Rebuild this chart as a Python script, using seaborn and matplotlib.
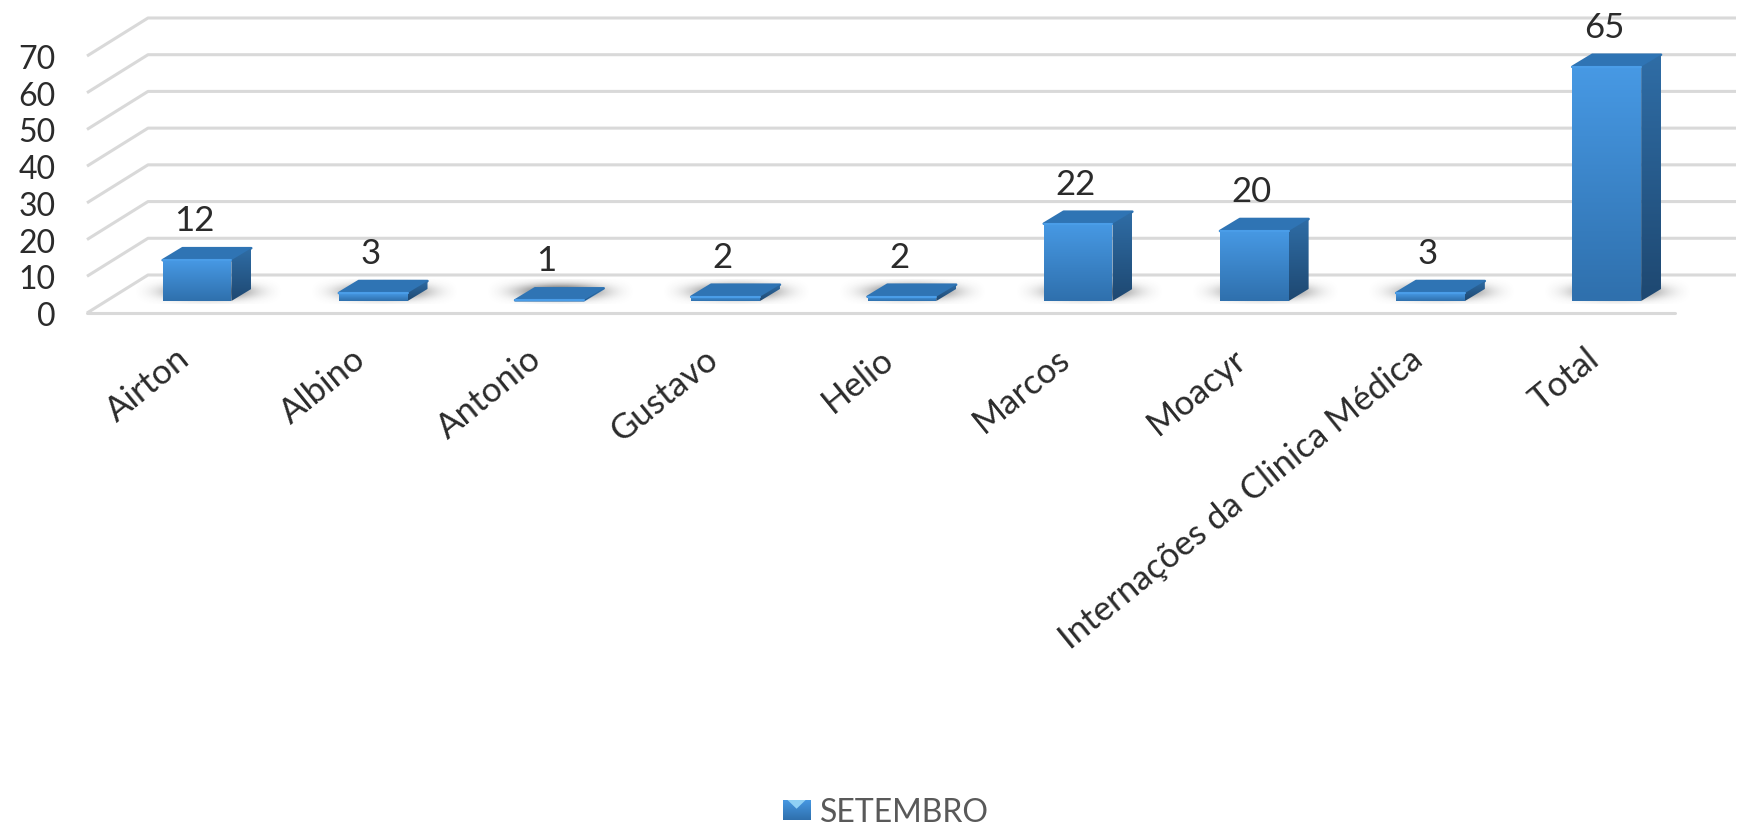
import numpy as np
import pandas as pd
import matplotlib
matplotlib.use("Agg")
import matplotlib.pyplot as plt
from matplotlib.colors import LinearSegmentedColormap
from matplotlib.patches import Polygon
from matplotlib.transforms import ScaledTranslation
import seaborn as sns

categories = ["Airton", "Albino", "Antonio", "Gustavo", "Helio", "Marcos", "Moacyr",
              "Internações da Clinica Médica", "Total"]
values = [12, 3, 1, 2, 2, 22, 20, 3, 65]
series_name = "SETEMBRO"
y_ticks = [0, 10, 20, 30, 40, 50, 60, 70]

W, H = 1742, 828
GRID = "#d9d9d9"
TEXT = "#2b2b2b"
DEPTH_X, DEPTH_Y = 0.113, 3.3   # bar depth, in category / value units
FLOOR = 0.82                    # boxes are cut off here, the 3d bars sink a bit in the floor


def vgrad(top, bottom):
    return LinearSegmentedColormap.from_list("g", [bottom, top])


FRONT = vgrad("#4799e4", "#2f70ad")
SIDE = vgrad("#2f6da6", "#1e4871")


def fill(ax, patch, cmap, extent, z):
    img = ax.imshow(np.linspace(1, 0, 64).reshape(-1, 1), cmap=cmap, extent=extent,
                    aspect="auto", zorder=z, interpolation="bilinear")
    img.set_clip_path(patch)


def draw_walls(ax):
    ax.set_xlim(0, 1); ax.set_ylim(0, 70)
    ax.set_yticks(y_ticks)
    ax.set_xticks([])
    ax.tick_params(axis="y", length=0, pad=22.5, labelsize=23, labelcolor=TEXT)
    sns.despine(ax=ax, left=True, bottom=True)
    dx, dy = 61 / 1588, 38 / 3.67
    tr = ax.get_yaxis_transform()
    for v in y_ticks:
        ax.plot([0, dx, 1 + dx], [v, v + dy, v + dy], transform=tr, color=GRID, lw=2.2,
                clip_on=False, solid_capstyle="butt")
    ax.plot([0, 1], [0, 0], transform=tr, color=GRID, lw=2.2, clip_on=False)


def draw_shadows(ax, bars):
    xx, yy = np.meshgrid(np.linspace(-1, 1, 120), np.linspace(-1, 1, 40))
    rgba = np.zeros((40, 120, 4))
    rgba[..., :3] = 0.25
    rgba[..., 3] = 0.85 * np.exp(-(xx / 0.58) ** 2 - (yy / 0.6) ** 2) * np.clip(1 - xx ** 4, 0, 1)
    for b in bars:
        c = b.get_x() + b.get_width() / 2 + 0.06
        ax.imshow(rgba, extent=(c - 0.42, c + 0.42, 0.0, 6.6), aspect="auto", zorder=1,
                  origin="lower", interpolation="bilinear")


def draw_box(ax, bar):
    x0, x1, h = bar.get_x(), bar.get_x() + bar.get_width(), bar.get_height()
    bar.set_visible(False)
    front = Polygon([(x0, FLOOR), (x1, FLOOR), (x1, h), (x0, h)], closed=True, fc="none", ec="none")
    side = Polygon([(x1, FLOOR), (x1 + DEPTH_X, FLOOR + DEPTH_Y), (x1 + DEPTH_X, h + DEPTH_Y), (x1, h)],
                   closed=True, fc="none", ec="none")
    top = Polygon([(x0, h), (x1, h), (x1 + DEPTH_X, h + DEPTH_Y), (x0 + DEPTH_X, h + DEPTH_Y)],
                  closed=True, fc="#2f74b4", ec="#2f74b4", lw=1.8, joinstyle="round", zorder=3)
    for p in (front, side):
        ax.add_patch(p)
    ax.add_patch(top)
    fill(ax, side, SIDE, (x1, x1 + DEPTH_X, FLOOR, h + DEPTH_Y), 3)
    fill(ax, front, FRONT, (x0, x1, FLOOR, h), 4)
    ax.plot([x0, x1], [h, h], color="#4a9de8", lw=1.5, zorder=5, solid_capstyle="round")
    ax.annotate(str(int(h)), (x0 + (x1 - x0) / 2, h), xytext=(-2, 21.5),
                textcoords="offset points", ha="center", va="baseline",
                fontsize=25, color=TEXT, zorder=6)


def draw_legend(fig):
    handles = [plt.Rectangle((0, 0), 1, 1, fc="#3a82c6", ec="none")]
    leg = fig.legend(handles, [series_name], loc="center left",
                     bbox_to_anchor=(783 / W, (H - 813) / H), frameon=False, fontsize=23,
                     handlelength=0.85, handleheight=0.6, handletextpad=0.3,
                     borderpad=0, borderaxespad=0, labelcolor="#595959")
    # gradient + light notch on the marker
    fig.canvas.draw()
    bb = leg.legend_handles[0].get_window_extent()
    mark = fig.add_axes([bb.x0 / W, bb.y0 / H, bb.width / W, bb.height / H], zorder=10)
    mark.imshow(np.linspace(1, 0, 32).reshape(-1, 1), cmap=FRONT, extent=(0, 1, 0, 1), aspect="auto")
    mark.add_patch(Polygon([(0.15, 1), (0.85, 1), (0.5, 0.55)], closed=True, fc="#8fd0f5", ec="none"))
    mark.axis("off")


def main():
    sns.set_theme(style="white")
    plt.rcParams["font.family"] = ["Lato", "DejaVu Sans"]
    fig = plt.figure(figsize=(W / 100, H / 100), dpi=100, facecolor="white")

    # back wall + floor
    wall = fig.add_axes([87 / W, (H - 314) / H, 1588 / W, 257 / H], facecolor="none")
    draw_walls(wall)

    # bars sit in a plane a bit inside the floor
    ax = fig.add_axes([108.9 / W, (H - 305) / H, 1586 / W, 255.5 / H], facecolor="none")
    df = pd.DataFrame({"nome": categories, "valor": values, "serie": series_name})
    sns.barplot(data=df, x="nome", y="valor", hue="serie", palette=["#3a82c6"], width=0.39,
                dodge=False, legend=False, ax=ax)
    bars = list(ax.containers[0])
    draw_shadows(ax, bars)
    for b in bars:
        draw_box(ax, b)
    ax.set_xlim(-0.5, 8.5); ax.set_ylim(0, 70)
    ax.set_xlabel(""); ax.set_ylabel("")
    ax.set_yticks([])
    sns.despine(ax=ax, left=True, bottom=True)
    ax.tick_params(axis="x", length=0, pad=27)
    ax.set_xticks(range(len(categories)))
    ax.set_xticklabels(categories, rotation=39, ha="right", rotation_mode="anchor",
                       fontsize=25, color=TEXT)
    shift = ScaledTranslation(-22 / 100, 0, fig.dpi_scale_trans)
    for lab in ax.get_xticklabels():
        lab.set_transform(lab.get_transform() + shift)

    draw_legend(fig)
    fig.savefig("out.png", dpi=100)


if __name__ == "__main__":
    main()
